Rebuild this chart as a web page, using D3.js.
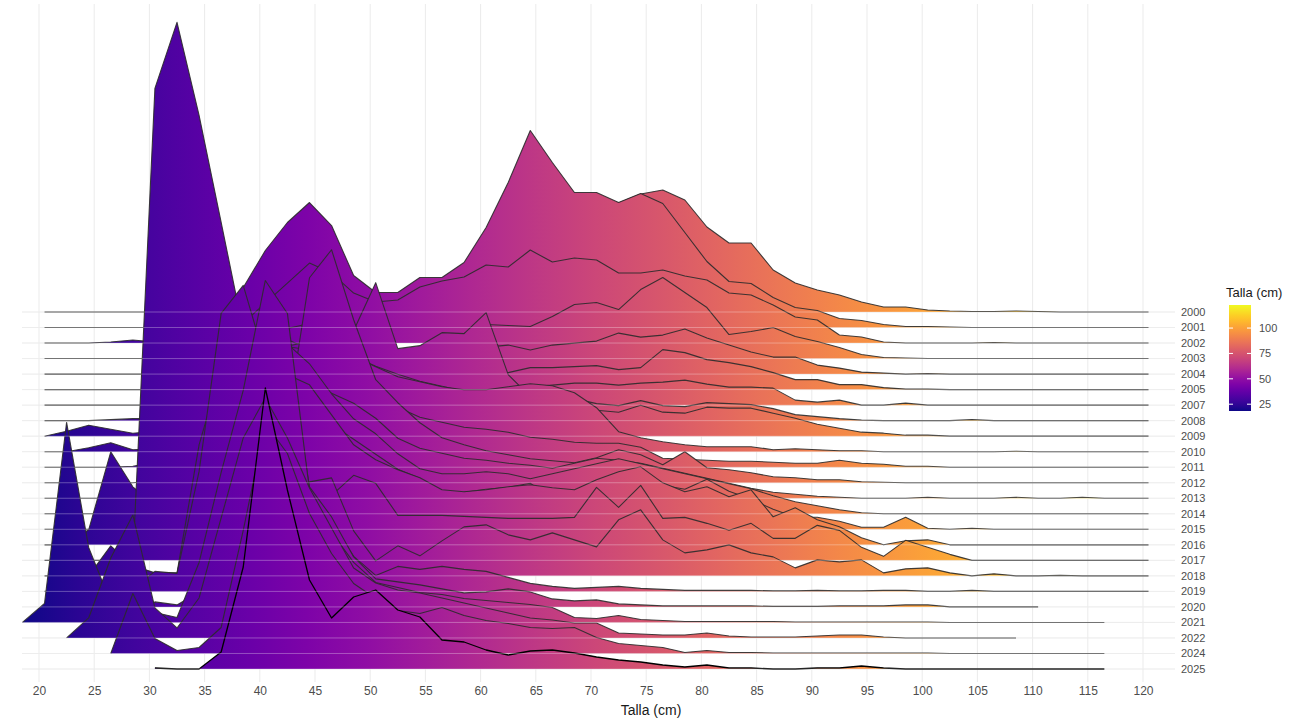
<!DOCTYPE html>
<html><head><meta charset="utf-8">
<script src="https://cdn.jsdelivr.net/npm/d3@7"></script>
<style>body{margin:0;background:#fff;} text{font-family:"Liberation Sans",Arial,sans-serif;}</style>
</head><body><svg id="chart" width="1302" height="722"></svg>
<script>
// Talla (cm) de cada punto de la curva
const tallas = [18.5,20.5,22.5,24.5,26.5,28.5,30.5,32.5,34.5,36.5,38.5,40.5,42.5,44.5,46.5,48.5,50.5,52.5,54.5,56.5,58.5,60.5,62.5,64.5,66.5,68.5,70.5,72.5,74.5,76.5,78.5,80.5,82.5,84.5,86.5,88.5,90.5,92.5,94.5,96.5,98.5,100.5,102.5,104.5,106.5,108.5,110.5,112.5,114.5,116.5,118.5,120.5];
const anios = ["2000","2001","2002","2003","2004","2005","2007","2008","2009","2010","2011","2012","2013","2014","2015","2016","2017","2018","2019","2020","2021","2022","2024","2025"];

// frecuencia relativa (escala de crestas) por año
const y2000 = [null,0,0,0,0,0,0,0,0,2,6,12,20,30,35,18,15,15,30,32,45,68,95,105,108,110,112,109,118,122,112,85,69,69,42,29,22,17,10,5,5,2,1,0.5,0.5,1,0.5,0,0,0,0,0];
const y2001 = [null,0,0,0,0,0,0,2,5,15,40,77,105,125,102,52,35,35,50,50,65,100,145,197,165,135,135,125,134,124,95,66,46,44,30,20,17,9,7,3,1,1,0.5,0,0,0,0,0,0,0,0,0];
const y2002 = [null,0,0,0,1,3,1,2,5,10,20,40,60,80,70,50,41,43,56,62,66,78,76,93,81,85,83,70,70,73,67,63,50,48,38,26,23,8,6,1,0,0,0,0,0.5,0,0,0,0,0,0,0];
const y2003 = [null,0,0,0,0,0,0,0,0,5,10,20,30,35,35,33,30,8,6,15,25,34,33,32,42,54,56,49,69,81,66,51,24,27,31,22,17,11,4,1,0.5,0,0,0,0,0,0,0,0,0,0,0];
const y2004 = [null,0,0,0,0,0,0,1,3,8,15,20,22,25,24,22,22,20,22,25,26,27,29,24,29,31,33,41,37,39,45,36,29,22,17,17,9,6,2,1,0,0.5,0,0,0,0,0,0,0,0,0,0];
const y2005 = [null,0,0,0,0,0,0,2,8,20,40,55,50,40,30,25,22,20,18,18,17,16,17,22,22,23,24,20,22,40,37,30,27,23,17,10,10,5,5,2,0.5,0.5,0,0,0,0,0,0,0,0,0,0];
const y2007 = [null,0,0,0,0,0,0,3,10,25,40,50,45,40,35,30,28,24,22,22,20,22,20,18,20,22,22,20,22,23,25,21,18,18,17,5,3,5,0,0,2,0,0,0,0,0,0,0,0,0,0,0];
const y2008 = [null,0,0,0,1,2,2,5,15,30,45,55,60,70,80,90,138,72,75,88,87,108,46,24,34,22,17,15,20,15,14,18,17,16,12,6,4,2,0.5,0,0,0,0,1,0,0,0,0,0,0,0,0];
const y2009 = [null,0,5,11,7,3,5,10,20,40,60,80,90,95,90,80,70,62,55,50,45,40,38,35,30,28,26,24,31,24,23,29,28,28,23,18,12,8,4,3,1,1,0,0,0,0,0,0,0,0,0,0];
const y2010 = [null,0,0,4,9,2,3,8,20,50,80,100,105,102,100,95,85,75,70,65,62,62,65,68,66,59,44,20,14,10,7,5,5,5,2,3,2,1,1,0,0,0,0,0,0,0.5,0,0,0,0,0,0];
const y2011 = [null,0,0,0,0,1,5,15,40,80,110,120,115,105,95,85,70,60,50,45,40,38,35,30,28,25,24,24,20,9,8,7,6,6,5,4,4,7,4,3,1,1,0,0,0,0,0,0,0,0,0,0];
const y2012 = [null,0,0,0,0,0,2,5,12,25,40,50,63,205,233,163,103,80,60,45,38,32,28,24,22,20,25,33,28,18,31,15,13,10,6,5,3,3,1,0.5,0,0,0,0,0,0,0,0,0,0,0,0];
const y2013 = [null,0,0,0,0,0,3,15,55,100,120,130,125,115,105,95,80,60,50,45,40,38,35,33,30,35,40,38,35,30,25,20,15,10,6,4,2,1,0,0,0,1,0,0,0,1,0,0,1,0,0,0];
const y2014 = [null,0,0,0,0,0,5,20,50,90,130,160,170,150,120,95,80,60,45,40,40,42,40,35,40,45,50,55,50,45,40,35,30,25,18,12,8,4,1,0,0,0,0,0,0,0,0,0,0,0,0,0];
const y2015 = [null,0,0,0,0,0,5,15,40,80,120,140,135,120,105,90,75,60,51,22,37,40,42,46,30,35,42,33,55,44,40,50,38,30,20,12,12,8,2,2,12,1,0,1,0,0,0,0,0,0,0,0];
const y2016 = [null,0,0,15,93,58,40,30,40,70,110,150,170,160,130,100,85,75,67,55,53,55,58,60,57,55,65,73,78,62,53,58,48,55,28,37,25,18,7,0,4,5,0,0,0,0,0,0,0,0,0,0];
const y2017 = [null,0,0,0,0,0,472,538,445,338,230,150,100,70,65,85,77,45,45,45,44,43,42,42,42,43,73,53,75,42,43,37,30,37,22,22,35,30,13,4,20,13,6,0,0,0,0,0,0,0,0,0];
const y2018 = [null,0,0,0,30,10,3,3,131,208,149,66,78,94,98,45,15,30,20,35,49,51,41,36,43,36,29,56,66,36,23,26,31,23,19,8,16,14,16,3,7,8,3,0,2,0,0,0.5,0,0,0,0];
const y2019 = [null,0,0,0,0,3,20,18,120,278,306,231,150,100,70,35,16,25,22,25,22,20,14,8,5,3,4,5,3,2,1,1,1,1,0.5,0.5,1,0.5,0.5,1,1,0,0,1,0,0,0,0,0,0,0,0];
const y2020 = [null,0,0,0,0,0,5,2,15,60,200,305,260,120,90,50,28,25,22,18,14,15,18,15,8,6,7,3,2,1,1,1,1,1,0.5,0.5,0.5,1,1,1,2,2,0,0,0,0,0,null,null,null,null,null];
const y2021 = [0,19,200,75,20,25,10,5,60,150,232,342,309,132,90,60,40,35,30,28,24,22,20,18,15,5,4,7,3,2,1,1,1,1,1,0.5,0.5,0.5,0.5,0.5,0.5,0.5,0,0,0,0,0,0,0,0,null,null];
const y2022 = [null,null,0,20,80,123,30,10,40,120,200,240,200,150,110,70,55,48,45,40,35,30,25,20,18,15,15,5,4,3,3,5,2,1,1,1,2,3,3,1,0,0,0,0,0,0,null,null,null,null,null,null];
const y2024 = [null,null,null,null,0,60,15,3,6,26,123,230,200,140,100,70,55,43,40,46,38,33,30,26,25,26,16,10,8,6,1,3,1,1,0.5,0.5,0.5,0.5,0.5,0.5,0.5,0.5,0,0,0,0,0,0,0,0,null,null];
const y2025 = [null,null,null,null,null,null,1,0,0,17,102,281,179,89,51,72,79,59,52,29,27,19,14,18,19,16,12,9,7,4,2,4,1,1,0,0,1,1,3,1,0,0,0,0,0,0,0,0,0,0,null,null];

const ticksX = [20,25,30,35,40,45,50,55,60,65,70,75,80,85,90,95,100,105,110,115,120];
const ticksLeyenda = [25,50,75,100];
const rangoColor = [18.3,122.7];

const series = [y2000,y2001,y2002,y2003,y2004,y2005,y2007,y2008,y2009,y2010,y2011,y2012,y2013,y2014,y2015,y2016,y2017,y2018,y2019,y2020,y2021,y2022,y2024,y2025];

const svg = d3.select("#chart");
const x = d3.scaleLinear().domain([20,120]).range([39,1143]);
const yRow = d3.scalePoint().domain(anios).range([312,669]);
const hScale = d3.scaleLinear().domain([0,100]).range([0,100]);
const panel = {x0:22, x1:1175, y0:4, y1:682};

// gradient
const defs = svg.append("defs");
const grad = defs.append("linearGradient").attr("id","gradX")
  .attr("gradientUnits","userSpaceOnUse")
  .attr("x1",x(rangoColor[0])).attr("x2",x(rangoColor[1])).attr("y1",0).attr("y2",0);
d3.range(0,1.0001,0.05).forEach(t=>grad.append("stop").attr("offset",t).attr("stop-color",d3.interpolatePlasma(t)));
const gradV = defs.append("linearGradient").attr("id","gradY")
  .attr("x1",0).attr("x2",0).attr("y1",1).attr("y2",0);
d3.range(0,1.0001,0.05).forEach(t=>gradV.append("stop").attr("offset",t).attr("stop-color",d3.interpolatePlasma(t)));

// grid
const grid = svg.append("g");
grid.selectAll("line.v").data(ticksX).join("line")
  .attr("x1",d=>x(d)).attr("x2",d=>x(d)).attr("y1",panel.y0).attr("y2",panel.y1)
  .attr("stroke","#ebebeb").attr("stroke-width",1);
grid.selectAll("line.h").data(anios).join("line")
  .attr("x1",panel.x0).attr("x2",panel.x1).attr("y1",d=>yRow(d)).attr("y2",d=>yRow(d))
  .attr("stroke","#e6e6e6").attr("stroke-width",1);

// ridges
const ridges = svg.append("g");
anios.forEach((an,i)=>{
  const base = yRow(an);
  const pts = tallas.map((t,j)=>({t, v: series[i][j]})).filter(d=>d.v!==null);
  const area = d3.area().x(d=>x(d.t)).y0(base).y1(d=>base - hScale(d.v));
  const line = d3.line().x(d=>x(d.t)).y(d=>base - hScale(d.v));
  ridges.append("path").attr("d",area(pts)).attr("fill","url(#gradX)");
  const last = i===anios.length-1;
  ridges.append("path").attr("d",line(pts)).attr("fill","none")
    .attr("stroke", last?"#000":"#2b2b2b").attr("stroke-width", last?1.3:1.1)
    .attr("stroke-opacity", last?1:0.9).attr("stroke-linejoin","round");
});

// light baseline overlay
svg.append("g").selectAll("line").data(anios).join("line")
  .attr("x1",panel.x0).attr("x2",panel.x1).attr("y1",d=>yRow(d)).attr("y2",d=>yRow(d))
  .attr("stroke","#ffffff").attr("stroke-opacity",0.3).attr("stroke-width",1);

// y labels
svg.append("g").selectAll("text").data(anios).join("text")
  .attr("x",1181).attr("y",d=>yRow(d)).attr("dy","0.35em")
  .attr("font-size",11).attr("fill","#4d4d4d").text(d=>d);

// x axis
const xAxis = d3.axisBottom(x).tickValues(ticksX).tickSize(0).tickPadding(0);
const gx = svg.append("g").attr("transform","translate(0,686)").call(xAxis);
gx.select(".domain").remove();
gx.selectAll("text").attr("font-size",12).attr("fill","#4d4d4d").attr("font-family","Liberation Sans, Arial, sans-serif");
svg.append("text").attr("x",651).attr("y",715).attr("text-anchor","middle")
  .attr("font-size",14).attr("fill","#1a1a1a").text("Talla (cm)");

// legend
const lg = svg.append("g");
lg.append("text").attr("x",1226).attr("y",297).attr("font-size",13).attr("fill","#1a1a1a").text("Talla (cm)");
const ly = d3.scaleLinear().domain(rangoColor).range([411,305]);
lg.append("rect").attr("x",1229).attr("y",ly(rangoColor[1])).attr("width",22)
  .attr("height",ly(rangoColor[0])-ly(rangoColor[1])).attr("fill","url(#gradY)");
lg.selectAll("line.a").data(ticksLeyenda).join("line")
  .attr("x1",1229).attr("x2",1233).attr("y1",d=>ly(d)).attr("y2",d=>ly(d)).attr("stroke","#fff").attr("stroke-width",1);
lg.selectAll("line.b").data(ticksLeyenda).join("line")
  .attr("x1",1247).attr("x2",1251).attr("y1",d=>ly(d)).attr("y2",d=>ly(d)).attr("stroke","#fff").attr("stroke-width",1);
lg.selectAll("text.l").data(ticksLeyenda).join("text")
  .attr("x",1259).attr("y",d=>ly(d)).attr("dy","0.35em").attr("font-size",11).attr("fill","#4d4d4d").text(d=>d);
</script></body></html>
